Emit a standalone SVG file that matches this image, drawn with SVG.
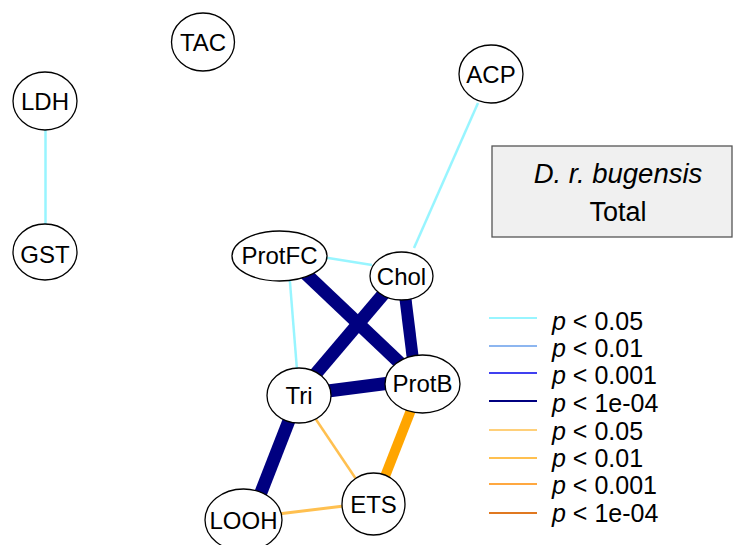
<svg xmlns="http://www.w3.org/2000/svg" width="735" height="545" viewBox="0 0 735 545">
<style>
.n ellipse{fill:#fff;stroke:#000;stroke-width:1.3}
.n text{font-family:"Liberation Sans",Arial,sans-serif;font-size:24px;fill:#000;text-anchor:middle}
.lg text{font-family:"Liberation Sans",Arial,sans-serif;font-size:25px;fill:#000}
.c1{stroke:#98F5FF}
.c2{stroke:#8DB6F0}
.c3{stroke:#4040F0}
.c4{stroke:#000080}
.o1{stroke:#FFD07A}
.o2{stroke:#FFC050}
.o3{stroke:#FFA840}
.o4{stroke:#E07820}
</style>
<rect width="735" height="545" fill="#fff"/>
<g id="connectors" fill="none" stroke-linecap="butt">
<line class="c1" x1="45.5" y1="128" x2="45.5" y2="226" stroke-width="2.5"/>
<line class="c1" x1="478" y1="103" x2="414" y2="248" stroke-width="2.5"/>
<line class="c1" x1="322" y1="257" x2="372" y2="265" stroke-width="2.5"/>
<line class="c1" x1="289" y1="270" x2="297" y2="370" stroke-width="2.5"/>
<line class="c4" x1="305" y1="273" x2="402" y2="365" stroke-width="13"/>
<line class="c4" x1="386" y1="291" x2="313" y2="377" stroke-width="13"/>
<line class="c4" x1="405" y1="295" x2="413" y2="360" stroke-width="12"/>
<line class="c4" x1="328" y1="391" x2="390" y2="383" stroke-width="13"/>
<line class="c4" x1="290" y1="418" x2="260" y2="495" stroke-width="13"/>
<line class="o2" x1="315" y1="418" x2="356" y2="479" stroke-width="2.5"/>
<line class="o2" x1="278" y1="514" x2="344" y2="506" stroke-width="3"/>
<line stroke="#FFA500" x1="411" y1="410" x2="384" y2="479" stroke-width="10"/>
</g>
<g id="TAC" class="n"><ellipse cx="203" cy="42" rx="31.5" ry="29"/><text x="203" y="51">TAC</text></g>
<g id="LDH" class="n"><ellipse cx="45" cy="101" rx="32" ry="29"/><text x="45" y="110">LDH</text></g>
<g id="GST" class="n"><ellipse cx="45" cy="252" rx="32" ry="28"/><text x="45" y="263">GST</text></g>
<g id="ACP" class="n"><ellipse cx="491" cy="74" rx="32" ry="29"/><text x="491" y="83">ACP</text></g>
<g id="ProtFC" class="n"><ellipse cx="279.5" cy="256" rx="47.5" ry="25"/><text x="279.5" y="264">ProtFC</text></g>
<g id="Chol" class="n"><ellipse cx="401.5" cy="276" rx="31.5" ry="24"/><text x="401.5" y="285">Chol</text></g>
<g id="ProtB" class="n"><ellipse cx="422.5" cy="384" rx="37.5" ry="29"/><text x="422.5" y="392">ProtB</text></g>
<g id="Tri" class="n"><ellipse cx="299" cy="395.5" rx="32" ry="27.5"/><text x="299" y="404">Tri</text></g>
<g id="ETS" class="n"><ellipse cx="373.5" cy="504" rx="31.5" ry="31"/><text x="373.5" y="513">ETS</text></g>
<g id="LOOH" class="n"><ellipse cx="243.5" cy="520" rx="38.5" ry="31"/><text x="243.5" y="529">LOOH</text></g>
<g id="title">
<rect x="492" y="146" width="240" height="91" fill="#F0F0F0" stroke="#555" stroke-width="1.3"/>
<text x="618" y="183" font-family="'Liberation Sans',Arial,sans-serif" font-size="27.5" font-style="italic" text-anchor="middle">D. r. bugensis</text>
<text x="618" y="221" font-family="'Liberation Sans',Arial,sans-serif" font-size="27" text-anchor="middle">Total</text>
</g>
<g id="legend" class="lg">
<line class="c1" x1="489" y1="318" x2="537" y2="318" stroke-width="2"/>
<line class="c2" x1="489" y1="346" x2="537" y2="346" stroke-width="2"/>
<line class="c3" x1="489" y1="373" x2="537" y2="373" stroke-width="2"/>
<line class="c4" x1="489" y1="401" x2="537" y2="401" stroke-width="2"/>
<line class="o1" x1="489" y1="430" x2="537" y2="430" stroke-width="2"/>
<line class="o2" x1="489" y1="458" x2="537" y2="458" stroke-width="2"/>
<line class="o3" x1="489" y1="484" x2="537" y2="484" stroke-width="2"/>
<line class="o4" x1="489" y1="513" x2="537" y2="513" stroke-width="2"/>
<text x="552" y="330"><tspan font-style="italic">p</tspan> &lt; 0.05</text>
<text x="552" y="357"><tspan font-style="italic">p</tspan> &lt; 0.01</text>
<text x="552" y="384"><tspan font-style="italic">p</tspan> &lt; 0.001</text>
<text x="552" y="412"><tspan font-style="italic">p</tspan> &lt; 1e-04</text>
<text x="552" y="440"><tspan font-style="italic">p</tspan> &lt; 0.05</text>
<text x="552" y="467"><tspan font-style="italic">p</tspan> &lt; 0.01</text>
<text x="552" y="494"><tspan font-style="italic">p</tspan> &lt; 0.001</text>
<text x="552" y="522"><tspan font-style="italic">p</tspan> &lt; 1e-04</text>
</g>
</svg>
